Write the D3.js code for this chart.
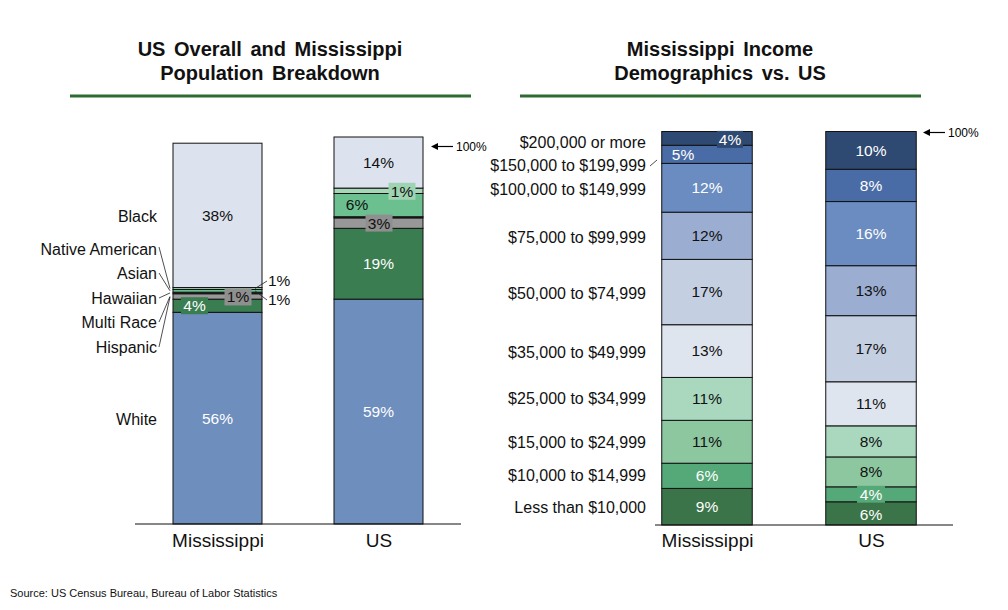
<!DOCTYPE html>
<html>
<head>
<meta charset="utf-8">
<script src="https://cdn.jsdelivr.net/npm/d3@7"></script>
<style>
  body { margin: 0; background: #fff; }
  svg { display: block; font-family: Arial, "Liberation Sans", sans-serif; }
</style>
</head>
<body>
<svg id="chart" width="1008" height="610"></svg>
<script>
// ---- population breakdown (left) ----
const popGroups = ['Mississippi', 'US'];
const popCategories = ['White', 'Hispanic', 'Multi Race', 'Hawaiian', 'Asian', 'Native American', 'Black'];
const popMississippi = [54.7, 3.4, 1.4, 0.4, 0.7, 0.5, 37.3];
const popUS = [58.1, 18.3, 2.7, 0.3, 6.0, 1.4, 13.2];
const popMississippiLabels = ['56%', '4%', '1%', '', '1%', '1%', '38%'];
const popUSLabels = ['59%', '19%', '3%', '', '6%', '1%', '14%'];

// ---- income demographics (right) ----
const incGroups = ['Mississippi', 'US'];
const incCategories = ['Less than $10,000', '$10,000 to $14,999', '$15,000 to $24,999', '$25,000 to $34,999',
  '$35,000 to $49,999', '$50,000 to $74,999', '$75,000 to $99,999', '$100,000 to $149,999',
  '$150,000 to $199,999', '$200,000 or more'];
const incMississippi = [9.3, 6.4, 10.9, 10.9, 13.4, 16.6, 12.0, 12.4, 4.6, 3.5];
const incUS = [5.9, 3.8, 7.6, 7.9, 11.2, 16.8, 12.7, 16.3, 8.2, 9.6];

const popColors = ['#6e8ebe', '#3a7d50', '#989898', '#2b2b2b', '#6cc08f', '#a6d8b8', '#dde3ee'];
const popText = ['#fff', '#fff', '#111', '#111', '#111', '#111', '#111'];
const incColors = ['#3b7449', '#55a878', '#8dc7a0', '#a9d8bf', '#dfe5ef', '#c4cfe2', '#9badd0', '#6b8cc0', '#4a6ca6', '#2f4a72'];
const incText = ['#fff', '#fff', '#111', '#111', '#111', '#111', '#111', '#fff', '#fff', '#fff'];

const svg = d3.select('#chart');

function stack(values) {
  let acc = 0;
  return values.map((v, i) => { const s = { i, y0: acc, y1: acc + v, v }; acc += v; return s; });
}

function title(lines, cx, x1, x2) {
  const t = svg.append('text')
    .attr('text-anchor', 'middle')
    .style('font-size', '20px').style('font-weight', 'bold').style('fill', '#111')
    .style('word-spacing', '3px');
  lines.forEach((l, k) => t.append('tspan').attr('x', cx).attr('y', 56 + k * 24).text(l));
  svg.append('line').attr('x1', x1).attr('x2', x2).attr('y1', 96).attr('y2', 96)
    .attr('stroke', '#2f6b30').attr('stroke-width', 3);
}

function arrow100(x, y) {
  svg.append('line').attr('x1', x + 22).attr('x2', x + 5).attr('y1', y).attr('y2', y)
    .attr('stroke', '#000').attr('stroke-width', 1.2);
  svg.append('path').attr('d', `M${x},${y}l7,-3.5v7z`).attr('fill', '#000');
  svg.append('text').attr('x', x + 25).attr('y', y + 4).style('font-size', '12px').text('100%');
}

// ================= LEFT CHART =================
title(['US Overall and Mississippi', 'Population Breakdown'], 270, 70, 471);

const xL = d3.scalePoint().domain(popGroups).range([217.5, 378.5]);
const yL = d3.scaleLinear().domain([0, 100]).range([524, 137]);
const bwL = 89;

const popSeries = [popMississippi, popUS];
const popLabelSets = [popMississippiLabels, popUSLabels];

popSeries.forEach((vals, gi) => {
  const cx = xL(popGroups[gi]);
  svg.append('g').selectAll('rect')
    .data(stack(vals))
    .join('rect')
    .attr('x', cx - bwL / 2)
    .attr('width', bwL)
    .attr('y', d => yL(d.y1))
    .attr('height', d => yL(d.y0) - yL(d.y1))
    .attr('fill', d => popColors[d.i])
    .attr('stroke', '#111')
    .attr('stroke-width', 1);
});

// label placement tweaks per slice
const popLabelLayout = [
  { 1: { dx: -23, box: '#3a7d50' }, 2: { dx: 20.5, dy: 0.5, box: '#8f8f8f' },
    4: { out: true, lx: 268, ly: 300 }, 5: { out: true, lx: 268, ly: 281 } },
  { 2: { dx: 0.5, box: '#8f8f8f' }, 4: { dx: -21.5, dy: -1 }, 5: { dx: 23.5, dy: 0.5, box: '#9fd4b3' } }
];

popSeries.forEach((vals, gi) => {
  const cx = xL(popGroups[gi]);
  stack(vals).forEach(d => {
    const txt = popLabelSets[gi][d.i];
    if (!txt) return;
    const lay = popLabelLayout[gi][d.i] || {};
    const cy = (yL(d.y0) + yL(d.y1)) / 2;
    if (lay.out) {
      svg.append('line').attr('x1', cx + bwL / 2 - 7).attr('y1', cy)
        .attr('x2', lay.lx - 1).attr('y2', lay.ly).attr('stroke', '#222').attr('stroke-width', 0.8);
      svg.append('text').attr('x', lay.lx).attr('y', lay.ly).attr('dy', '0.35em')
        .style('font-size', '15.5px').style('fill', '#111').text(txt);
      return;
    }
    const tx = cx + (lay.dx || 0), ty = cy + (lay.dy || 0);
    if (lay.box) {
      svg.append('rect').attr('x', tx - 13.5).attr('y', ty - 8.5).attr('width', 27).attr('height', 17)
        .attr('fill', lay.box);
    }
    svg.append('text').attr('x', tx).attr('y', ty).attr('dy', '0.35em')
      .attr('text-anchor', 'middle').style('font-size', '15.5px')
      .style('fill', popText[d.i]).text(txt);
  });
});

// left category names with leader lines into the thin Mississippi slices
const popNameY = [419, 347, 322, 298, 273, 249, 216];
const msStack = stack(popMississippi);
popCategories.forEach((name, i) => {
  svg.append('text').attr('x', 157).attr('y', popNameY[i]).attr('dy', '0.35em')
    .attr('text-anchor', 'end').style('font-size', '16px').style('fill', '#111').text(name);
  if (i >= 1 && i <= 5) {
    const s = msStack[i];
    const ty = Math.min((yL(s.y0) + yL(s.y1)) / 2, 297);
    svg.append('line').attr('x1', 159).attr('y1', popNameY[i] + (i === 5 ? -2 : 0))
      .attr('x2', 170).attr('y2', ty).attr('stroke', '#222').attr('stroke-width', 0.8);
  }
});

const axL = svg.append('g').attr('transform', `translate(0,${yL(0)})`)
  .call(d3.axisBottom(xL).tickSize(0).tickPadding(10));
axL.select('.domain').remove();
axL.selectAll('text').style('font-size', '19px').style('fill', '#111')
  .style('font-family', 'Arial, "Liberation Sans", sans-serif');
svg.append('line').attr('x1', 135).attr('x2', 461).attr('y1', yL(0)).attr('y2', yL(0))
  .attr('stroke', '#111').attr('stroke-width', 1.2);

arrow100(431, 146.5);

// ================= RIGHT CHART =================
title(['Mississippi Income', 'Demographics vs. US'], 720, 520, 921);

const xR = d3.scalePoint().domain(incGroups).range([707, 871]);
const yR = d3.scaleLinear().domain([0, 100]).range([525, 131.5]);
const bwR = 90.5;
const incSeries = [incMississippi, incUS];

incSeries.forEach((vals, gi) => {
  const cx = xR(incGroups[gi]);
  svg.append('g').selectAll('rect')
    .data(stack(vals))
    .join('rect')
    .attr('x', cx - bwR / 2)
    .attr('width', bwR)
    .attr('y', d => yR(d.y1))
    .attr('height', d => yR(d.y0) - yR(d.y1))
    .attr('fill', d => incColors[d.i])
    .attr('stroke', '#111')
    .attr('stroke-width', 1);
});

const incLabelLayout = [
  { 9: { dx: 23, dy: 1, box: '#2f4a72', bw: 26 }, 8: { dx: -24, dy: 0 } },
  { 1: { dx: 0, dy: 0, box: '#55a878', bw: 28 }, 0: { dy: 1.5 } }
];

incSeries.forEach((vals, gi) => {
  const cx = xR(incGroups[gi]);
  stack(vals).forEach(d => {
    const lay = incLabelLayout[gi][d.i] || {};
    const cy = (yR(d.y0) + yR(d.y1)) / 2;
    const tx = cx + (lay.dx || 0), ty = cy + (lay.dy || 0);
    if (lay.box) {
      svg.append('rect').attr('x', tx - lay.bw / 2).attr('y', ty - 8.5).attr('width', lay.bw).attr('height', 17)
        .attr('fill', lay.box);
    }
    svg.append('text').attr('x', tx).attr('y', ty).attr('dy', '0.35em')
      .attr('text-anchor', 'middle').style('font-size', '15.5px')
      .style('fill', incText[d.i]).text(d3.format('.0f')(d.v) + '%');
  });
});

// right category names, aligned on the Mississippi slices
const incNameShift = [1, 0, 1, 0, 1, 1, 2, 2, 11, 4];
const incStackMs = stack(incMississippi);
incCategories.forEach((name, i) => {
  const s = incStackMs[i];
  const cy = (yR(s.y0) + yR(s.y1)) / 2 + incNameShift[i];
  svg.append('text').attr('x', 646).attr('y', cy).attr('dy', '0.35em')
    .attr('text-anchor', 'end').style('font-size', '16px').style('fill', '#111').text(name);
});
svg.append('line').attr('x1', 650).attr('y1', 166).attr('x2', 657).attr('y2', 160)
  .attr('stroke', '#222').attr('stroke-width', 0.8);

const axR = svg.append('g').attr('transform', `translate(0,${yR(0)})`)
  .call(d3.axisBottom(xR).tickSize(0).tickPadding(9));
axR.select('.domain').remove();
axR.selectAll('text').style('font-size', '19px').style('fill', '#111')
  .style('font-family', 'Arial, "Liberation Sans", sans-serif');
svg.append('line').attr('x1', 655).attr('x2', 953).attr('y1', yR(0)).attr('y2', yR(0))
  .attr('stroke', '#111').attr('stroke-width', 1.2);

arrow100(923, 132.5);

// source
svg.append('text').attr('x', 10).attr('y', 597).style('font-size', '11px').style('fill', '#111')
  .text('Source: US Census Bureau, Bureau of Labor Statistics');
</script>
</body>
</html>
